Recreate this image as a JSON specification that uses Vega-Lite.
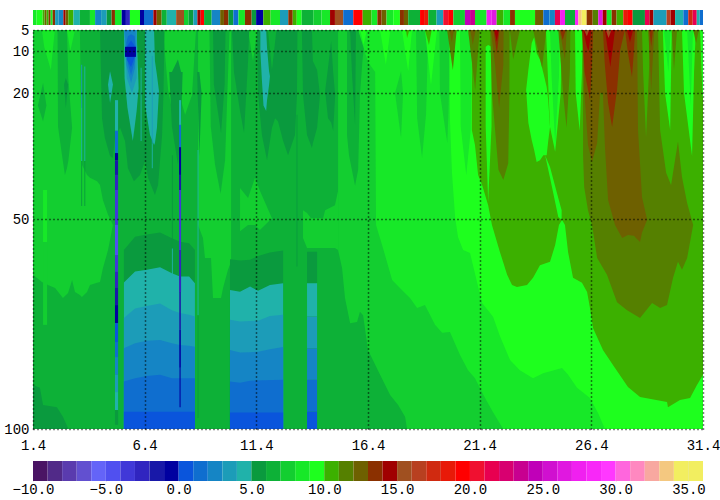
{
"$schema":"https://vega.github.io/schema/vega-lite/v6.json",
"background":"white",
"padding":{"left":3,"top":10,"right":1,"bottom":1},
"spacing":9,
"config":{"view":{"stroke":null},"axis":{"labelFont":"Liberation Mono","labelFontSize":14,"labelColor":"#000","domain":false,"ticks":false,"title":null}},
"datasets":{
"strip":[
{"x":1.4,"x2":1.56,"v":8},{"x":1.56,"x2":1.83,"v":9},{"x":1.83,"x2":1.92,"v":10},{"x":1.92,"x2":2.01,"v":12},{"x":2.01,"x2":2.1,"v":10},{"x":2.1,"x2":2.19,"v":13},{"x":2.19,"x2":2.28,"v":8},{"x":2.28,"x2":2.39,"v":13},{"x":2.39,"x2":2.55,"v":3},{"x":2.55,"x2":2.76,"v":2},{"x":2.76,"x2":2.86,"v":14},{"x":2.86,"x2":2.98,"v":12},{"x":2.98,"x2":3.21,"v":10},{"x":3.21,"x2":3.5,"v":4},{"x":3.5,"x2":3.95,"v":6},{"x":3.95,"x2":4.18,"v":8},{"x":4.18,"x2":4.45,"v":2},{"x":4.45,"x2":4.7,"v":3},{"x":4.7,"x2":4.92,"v":5},{"x":4.92,"x2":5.07,"v":13},{"x":5.07,"x2":5.37,"v":8},{"x":5.37,"x2":5.56,"v":-1},{"x":5.56,"x2":5.74,"v":-3},{"x":5.74,"x2":6.19,"v":9},{"x":6.19,"x2":6.37,"v":-1},{"x":6.37,"x2":6.79,"v":1},{"x":6.79,"x2":6.94,"v":14},{"x":6.94,"x2":7.16,"v":12},{"x":7.16,"x2":7.39,"v":6},{"x":7.39,"x2":7.81,"v":4},{"x":7.81,"x2":8.16,"v":15},{"x":8.16,"x2":8.37,"v":7},{"x":8.37,"x2":8.58,"v":5},{"x":8.58,"x2":8.76,"v":3},{"x":8.76,"x2":8.91,"v":14},{"x":8.91,"x2":9.06,"v":19},{"x":9.06,"x2":9.4,"v":6},{"x":9.4,"x2":9.78,"v":2},{"x":9.78,"x2":9.95,"v":12},{"x":9.95,"x2":10.15,"v":13},{"x":10.15,"x2":10.37,"v":5},{"x":10.37,"x2":10.6,"v":1},{"x":10.6,"x2":10.89,"v":8},{"x":10.89,"x2":11.19,"v":13},{"x":11.19,"x2":11.39,"v":5},{"x":11.39,"x2":11.71,"v":-1},{"x":11.71,"x2":12.04,"v":10},{"x":12.04,"x2":12.46,"v":8},{"x":12.46,"x2":12.83,"v":3},{"x":12.83,"x2":13.03,"v":13},{"x":13.03,"x2":13.21,"v":10},{"x":13.21,"x2":13.43,"v":9},{"x":13.43,"x2":13.95,"v":6},{"x":13.95,"x2":14.32,"v":7},{"x":14.32,"x2":14.7,"v":8},{"x":14.7,"x2":14.92,"v":14},{"x":14.92,"x2":15.29,"v":15},{"x":15.29,"x2":15.74,"v":1},{"x":15.74,"x2":16.16,"v":19},
{"x":16.16,"x2":16.56,"v":10},{"x":16.56,"x2":16.82,"v":8},{"x":16.82,"x2":17.01,"v":13},{"x":17.01,"x2":17.23,"v":12},{"x":17.23,"x2":17.53,"v":8},{"x":17.53,"x2":17.83,"v":9},{"x":17.83,"x2":18.01,"v":13},{"x":18.01,"x2":18.2,"v":12},{"x":18.2,"x2":18.73,"v":6},{"x":18.73,"x2":18.91,"v":19},{"x":18.91,"x2":19.1,"v":18},{"x":19.1,"x2":19.47,"v":6},{"x":19.47,"x2":19.77,"v":3},{"x":19.77,"x2":19.99,"v":20},{"x":19.99,"x2":20.22,"v":19},{"x":20.22,"x2":20.74,"v":7},{"x":20.74,"x2":20.97,"v":24},{"x":20.97,"x2":21.19,"v":23},{"x":21.19,"x2":21.71,"v":8},{"x":21.71,"x2":21.94,"v":27},{"x":21.94,"x2":22.16,"v":26},{"x":22.16,"x2":22.46,"v":10},{"x":22.46,"x2":22.76,"v":8},{"x":22.76,"x2":22.98,"v":13},{"x":22.98,"x2":23.88,"v":9},{"x":23.88,"x2":24.25,"v":12},{"x":24.25,"x2":24.52,"v":1},{"x":24.52,"x2":24.77,"v":2},{"x":24.77,"x2":25,"v":21},{"x":25,"x2":25.22,"v":27},{"x":25.22,"x2":25.67,"v":6},{"x":25.67,"x2":25.82,"v":28},{"x":25.82,"x2":25.97,"v":33},{"x":25.97,"x2":26.19,"v":34},{"x":26.19,"x2":26.46,"v":13},{"x":26.46,"x2":26.71,"v":11},{"x":26.71,"x2":26.91,"v":26},{"x":26.91,"x2":27.09,"v":14},{"x":27.09,"x2":27.31,"v":8},{"x":27.31,"x2":27.53,"v":13},{"x":27.53,"x2":27.83,"v":10},{"x":27.83,"x2":28.04,"v":18},{"x":28.04,"x2":28.25,"v":19},{"x":28.25,"x2":28.8,"v":5},{"x":28.8,"x2":29,"v":21},{"x":29,"x2":29.18,"v":14},{"x":29.18,"x2":29.77,"v":3},{"x":29.77,"x2":29.95,"v":16},{"x":29.95,"x2":30.15,"v":14},{"x":30.15,"x2":30.52,"v":4},{"x":30.52,"x2":30.74,"v":1},{"x":30.74,"x2":30.94,"v":17},{"x":30.94,"x2":31.12,"v":21},{"x":31.12,"x2":31.25,"v":4},{"x":31.25,"x2":31.4,"v":1}
],
"areas":[
{"r":1,"v":6,"x":1.4,"a":5,"b":100},{"r":1,"v":6,"x":31.4,"a":5,"b":100},
{"r":2,"v":7,"x":1.4,"a":5,"b":63.3},{"r":2,"v":7,"x":1.8,"a":5,"b":65},{"r":2,"v":7,"x":2.07,"a":5,"b":65.7},{"r":2,"v":7,"x":2.39,"a":5,"b":66.4},{"r":2,"v":7,"x":2.74,"a":5,"b":68.8},{"r":2,"v":7,"x":2.97,"a":5,"b":67.6},{"r":2,"v":7,"x":3.15,"a":5,"b":64.5},{"r":2,"v":7,"x":3.28,"a":5,"b":67.4},{"r":2,"v":7,"x":3.5,"a":5,"b":68.1},{"r":2,"v":7,"x":3.59,"a":37.1,"b":68.6},{"r":2,"v":7,"x":3.82,"a":39.5,"b":67.4},{"r":2,"v":7,"x":3.95,"a":40.2,"b":65.7},{"r":2,"v":7,"x":4.27,"a":41,"b":65.2},{"r":2,"v":7,"x":4.4,"a":41.9,"b":65},{"r":2,"v":7,"x":4.53,"a":45.5,"b":61.7},{"r":2,"v":7,"x":4.76,"a":49,"b":57.4},{"r":2,"v":7,"x":4.98,"a":51.4,"b":51.4},
{"r":3,"v":7,"x":7.22,"a":5,"b":5},{"r":3,"v":7,"x":7.45,"a":5,"b":19.3},{"r":3,"v":7,"x":7.62,"a":5,"b":24},{"r":3,"v":7,"x":7.89,"a":5,"b":19.3},{"r":3,"v":7,"x":8.21,"a":5,"b":25.2},{"r":3,"v":7,"x":8.52,"a":5,"b":20.5},{"r":3,"v":7,"x":8.7,"a":5,"b":5},
{"r":4,"v":7,"x":8.79,"a":5,"b":51.4},{"r":4,"v":7,"x":9.01,"a":5,"b":54.5},{"r":4,"v":7,"x":9.1,"a":5,"b":59.3},{"r":4,"v":7,"x":9.37,"a":5,"b":59.3},{"r":4,"v":7,"x":9.46,"a":5,"b":68.8},{"r":4,"v":7,"x":9.82,"a":5,"b":68.8},{"r":4,"v":7,"x":9.91,"a":5,"b":66.4},{"r":4,"v":7,"x":10.13,"a":5,"b":62.1},{"r":4,"v":7,"x":10.27,"a":5,"b":60.2},
{"r":5,"v":7,"x":11.03,"a":5,"b":5},{"r":5,"v":7,"x":11.25,"a":5,"b":12.4},{"r":5,"v":7,"x":11.45,"a":5,"b":5},
{"r":6,"v":6,"x":2.5,"a":5,"b":5},{"r":6,"v":6,"x":2.52,"a":5,"b":28},{"r":6,"v":6,"x":2.7,"a":5,"b":34.8},{"r":6,"v":6,"x":2.83,"a":5,"b":39.5},{"r":6,"v":6,"x":2.92,"a":5,"b":37.9},{"r":6,"v":6,"x":2.98,"a":16.4,"b":36.2},{"r":6,"v":6,"x":3.15,"a":28.3,"b":28.3},
{"r":7,"v":5,"x":2.79,"a":18,"b":18},{"r":7,"v":5,"x":2.87,"a":16.4,"b":23.6},{"r":7,"v":5,"x":2.97,"a":18,"b":18},
{"r":8,"v":6,"x":1.62,"a":23,"b":23},{"r":8,"v":6,"x":1.85,"a":17.6,"b":26.7},{"r":8,"v":6,"x":2,"a":23,"b":23},
{"r":9,"v":8,"x":1.8,"a":5,"b":5},{"r":9,"v":8,"x":1.9,"a":5,"b":9},{"r":9,"v":8,"x":2.2,"a":5,"b":14.5},{"r":9,"v":8,"x":2.3,"a":5,"b":9},{"r":9,"v":8,"x":2.38,"a":5,"b":5},
{"r":10,"v":8,"x":2.92,"a":5,"b":5},{"r":10,"v":8,"x":3.07,"a":5,"b":10},{"r":10,"v":8,"x":3.28,"a":5,"b":5},
{"r":11,"v":5,"x":1.4,"a":89.5,"b":100},{"r":11,"v":5,"x":1.71,"a":90.2,"b":100},{"r":11,"v":5,"x":1.85,"a":94.3,"b":100},{"r":11,"v":5,"x":2.47,"a":94.8,"b":100},{"r":11,"v":5,"x":2.74,"a":97.1,"b":100},{"r":11,"v":5,"x":2.97,"a":99.8,"b":100},
{"r":12,"v":5,"x":4.4,"a":5,"b":5},{"r":12,"v":5,"x":4.49,"a":5,"b":26},{"r":12,"v":5,"x":4.62,"a":5,"b":30.7},{"r":12,"v":5,"x":4.85,"a":5,"b":35},{"r":12,"v":5,"x":4.98,"a":5,"b":35.5},{"r":12,"v":5,"x":5.07,"a":5,"b":30.7},{"r":12,"v":5,"x":5.3,"a":5,"b":28.3},{"r":12,"v":5,"x":5.52,"a":5,"b":31.4},{"r":12,"v":5,"x":5.65,"a":5,"b":37.9},{"r":12,"v":5,"x":5.92,"a":5,"b":41},{"r":12,"v":5,"x":6.19,"a":5,"b":39.5},{"r":12,"v":5,"x":6.42,"a":5,"b":36.2},{"r":12,"v":5,"x":6.55,"a":5,"b":40.2},{"r":12,"v":5,"x":6.86,"a":5,"b":44.3},{"r":12,"v":5,"x":7,"a":5,"b":41.9},{"r":12,"v":5,"x":7.18,"a":5,"b":30},{"r":12,"v":5,"x":7.24,"a":5,"b":20.5},{"r":12,"v":5,"x":7.29,"a":5,"b":5},
{"r":13,"v":5,"x":7.5,"a":15,"b":15},{"r":13,"v":5,"x":7.62,"a":15,"b":28},{"r":13,"v":5,"x":7.89,"a":12,"b":37},{"r":13,"v":5,"x":8.03,"a":15,"b":27},{"r":13,"v":5,"x":8.1,"a":15,"b":15},
{"r":14,"v":5,"x":8.75,"a":15,"b":15},{"r":14,"v":5,"x":8.85,"a":15,"b":35},{"r":14,"v":5,"x":8.95,"a":20,"b":20},
{"r":15,"v":6,"x":9.3,"a":5,"b":5},{"r":15,"v":6,"x":9.36,"a":5,"b":28},{"r":15,"v":6,"x":9.55,"a":5,"b":37},{"r":15,"v":6,"x":9.8,"a":5,"b":44},{"r":15,"v":6,"x":10,"a":5,"b":36},{"r":15,"v":6,"x":10.2,"a":5,"b":5},
{"r":16,"v":5,"x":9.46,"a":5,"b":5},{"r":16,"v":5,"x":9.5,"a":5,"b":18},{"r":16,"v":5,"x":9.82,"a":5,"b":29.5},{"r":16,"v":5,"x":9.98,"a":5,"b":18},{"r":16,"v":5,"x":10.02,"a":5,"b":5},
{"r":17,"v":4,"x":4.76,"a":18,"b":18},{"r":17,"v":4,"x":4.85,"a":14.8,"b":22.4},{"r":17,"v":4,"x":4.98,"a":18,"b":18},
{"r":18,"v":4,"x":5.47,"a":5,"b":5},{"r":18,"v":4,"x":5.5,"a":5,"b":16.4},{"r":18,"v":4,"x":5.63,"a":5,"b":23.6},{"r":18,"v":4,"x":5.87,"a":5,"b":31.4},{"r":18,"v":4,"x":6.04,"a":5,"b":24.3},{"r":18,"v":4,"x":6.13,"a":18.8,"b":18.8},
{"r":19,"v":3,"x":5.47,"a":5,"b":5},{"r":19,"v":3,"x":5.6,"a":5,"b":16.4},{"r":19,"v":3,"x":5.83,"a":5,"b":20},{"r":19,"v":3,"x":6.04,"a":5,"b":16.4},{"r":19,"v":3,"x":6.06,"a":5,"b":5},
{"r":20,"v":2,"x":5.5,"a":5,"b":5},{"r":20,"v":2,"x":5.58,"a":5,"b":13.3},{"r":20,"v":2,"x":5.79,"a":5,"b":17.6},{"r":20,"v":2,"x":5.97,"a":5,"b":14},{"r":20,"v":2,"x":6,"a":5,"b":5},
{"r":21,"v":1,"x":5.58,"a":8,"b":9},{"r":21,"v":1,"x":5.65,"a":6.5,"b":13},{"r":21,"v":1,"x":5.79,"a":6,"b":15.7},{"r":21,"v":1,"x":5.95,"a":6.5,"b":12.5},{"r":21,"v":1,"x":6,"a":9,"b":9},
{"r":22,"v":0,"x":5.6,"a":9,"b":12},{"r":22,"v":0,"x":5.79,"a":7.5,"b":13.8},{"r":22,"v":0,"x":5.98,"a":9,"b":11},
{"r":23,"v":4,"x":6.42,"a":5,"b":22.9},{"r":23,"v":4,"x":6.64,"a":5,"b":30},{"r":23,"v":4,"x":6.82,"a":5,"b":32.4},{"r":23,"v":4,"x":6.86,"a":12.4,"b":31.9},{"r":23,"v":4,"x":6.95,"a":15.7,"b":28.3},{"r":23,"v":4,"x":7.04,"a":19.5,"b":19.5},
{"r":24,"v":5,"x":10.31,"a":5,"b":5},{"r":24,"v":5,"x":10.4,"a":5,"b":15},{"r":24,"v":5,"x":10.67,"a":5,"b":24.3},{"r":24,"v":5,"x":10.85,"a":5,"b":29.5},{"r":24,"v":5,"x":11.03,"a":5,"b":12.4},{"r":24,"v":5,"x":11.08,"a":5,"b":5},
{"r":25,"v":5,"x":11.43,"a":5,"b":5},{"r":25,"v":5,"x":11.48,"a":5,"b":20.5},{"r":25,"v":5,"x":11.65,"a":5,"b":30},{"r":25,"v":5,"x":11.88,"a":5,"b":36},{"r":25,"v":5,"x":12.1,"a":5,"b":28.3},{"r":25,"v":5,"x":12.24,"a":5,"b":26},{"r":25,"v":5,"x":12.37,"a":5,"b":26.7},{"r":25,"v":5,"x":12.6,"a":5,"b":31.4},{"r":25,"v":5,"x":12.82,"a":5,"b":34.8},{"r":25,"v":5,"x":13.13,"a":5,"b":30},{"r":25,"v":5,"x":13.22,"a":5,"b":20.5},{"r":25,"v":5,"x":13.24,"a":5,"b":5},
{"r":26,"v":6,"x":11.92,"a":5,"b":5},{"r":26,"v":6,"x":12.1,"a":5,"b":14.5},{"r":26,"v":6,"x":12.3,"a":5,"b":5},
{"r":27,"v":4,"x":11.58,"a":5,"b":10},{"r":27,"v":4,"x":11.65,"a":5,"b":17},{"r":27,"v":4,"x":11.72,"a":5,"b":23},{"r":27,"v":4,"x":11.84,"a":5,"b":24.3},{"r":27,"v":4,"x":11.88,"a":9.3,"b":21.7},{"r":27,"v":4,"x":11.97,"a":14.8,"b":18.1},{"r":27,"v":4,"x":12.01,"a":16,"b":16},
{"r":28,"v":5,"x":13.44,"a":5,"b":5},{"r":28,"v":5,"x":13.49,"a":5,"b":20.5},{"r":28,"v":5,"x":13.67,"a":5,"b":30},{"r":28,"v":5,"x":13.89,"a":5,"b":33.1},{"r":28,"v":5,"x":13.93,"a":12.4,"b":32},{"r":28,"v":5,"x":14.12,"a":14.5,"b":28.3},{"r":28,"v":5,"x":14.25,"a":20.5,"b":20.5},
{"r":29,"v":5,"x":14.48,"a":19.5,"b":19.5},{"r":29,"v":5,"x":14.61,"a":14,"b":26},{"r":29,"v":5,"x":14.75,"a":7.6,"b":27},{"r":29,"v":5,"x":14.84,"a":15,"b":29},{"r":29,"v":5,"x":14.93,"a":20.5,"b":20.5},
{"r":30,"v":7,"x":10.67,"a":42.6,"b":52.9},{"r":30,"v":7,"x":11.03,"a":45,"b":51.4},{"r":30,"v":7,"x":11.34,"a":40.2,"b":51.4},{"r":30,"v":7,"x":11.56,"a":43.3,"b":52.6},{"r":30,"v":7,"x":12.1,"a":49.8,"b":49.8},
{"r":31,"v":7,"x":13.49,"a":47.9,"b":54.5},{"r":31,"v":7,"x":13.67,"a":48.6,"b":56.9},{"r":31,"v":7,"x":13.85,"a":49.8,"b":56.9},{"r":31,"v":7,"x":14.39,"a":49.8,"b":56.9},{"r":31,"v":7,"x":14.48,"a":47.9,"b":56.9},{"r":31,"v":7,"x":14.92,"a":46.7,"b":56.9},{"r":31,"v":7,"x":15.06,"a":43.3,"b":57.4},
{"r":32,"v":7,"x":15.06,"a":5,"b":57.4},{"r":32,"v":7,"x":15.24,"a":5,"b":61.7},{"r":32,"v":7,"x":15.37,"a":5,"b":68.8},{"r":32,"v":7,"x":15.6,"a":5,"b":74.8},{"r":32,"v":7,"x":15.91,"a":5,"b":74.5},{"r":32,"v":7,"x":16.04,"a":5,"b":72.1},{"r":32,"v":7,"x":16.18,"a":5,"b":72.9},{"r":32,"v":7,"x":16.4,"a":5,"b":81.2},{"r":32,"v":7,"x":16.94,"a":5,"b":87.1},{"r":32,"v":7,"x":17.39,"a":5,"b":91.9},{"r":32,"v":7,"x":17.75,"a":5,"b":94.3},{"r":32,"v":7,"x":18.06,"a":5,"b":97.1},{"r":32,"v":7,"x":18.15,"a":5,"b":100},{"r":32,"v":7,"x":31.4,"a":5,"b":100},
{"r":33,"v":6,"x":15.46,"a":5,"b":30},{"r":33,"v":6,"x":15.55,"a":5,"b":34.8},{"r":33,"v":6,"x":15.82,"a":5,"b":42.1},{"r":33,"v":6,"x":15.96,"a":5,"b":38.3},{"r":33,"v":6,"x":16.04,"a":5,"b":20.5},{"r":33,"v":6,"x":16.15,"a":5,"b":12.4},{"r":33,"v":6,"x":16.3,"a":5,"b":5},
{"r":34,"v":5,"x":15.6,"a":5,"b":5},{"r":34,"v":5,"x":15.68,"a":5,"b":15},{"r":34,"v":5,"x":15.82,"a":5,"b":27.6},{"r":34,"v":5,"x":15.86,"a":5,"b":5},
{"r":35,"v":8,"x":15.96,"a":5,"b":5},{"r":35,"v":8,"x":16.4,"a":5,"b":12.6},{"r":35,"v":8,"x":16.72,"a":5,"b":15},{"r":35,"v":8,"x":16.76,"a":5,"b":51.4},{"r":35,"v":8,"x":17.07,"a":5,"b":56.9},{"r":35,"v":8,"x":17.48,"a":5,"b":64.5},{"r":35,"v":8,"x":17.83,"a":5,"b":66.4},{"r":35,"v":8,"x":18.28,"a":5,"b":68.8},{"r":35,"v":8,"x":18.6,"a":5,"b":71.2},{"r":35,"v":8,"x":18.95,"a":5,"b":70.5},{"r":35,"v":8,"x":19.4,"a":5,"b":75.2},{"r":35,"v":8,"x":19.72,"a":5,"b":77.1},{"r":35,"v":8,"x":20.07,"a":5,"b":76.9},{"r":35,"v":8,"x":20.52,"a":5,"b":82.4},{"r":35,"v":8,"x":20.88,"a":5,"b":86},{"r":35,"v":8,"x":21.19,"a":5,"b":87.9},{"r":35,"v":8,"x":21.64,"a":5,"b":92.6},{"r":35,"v":8,"x":22,"a":5,"b":96},{"r":35,"v":8,"x":22.45,"a":5,"b":100},{"r":35,"v":8,"x":31.4,"a":5,"b":100},
{"r":36,"v":9,"x":16.05,"a":5,"b":5},{"r":36,"v":9,"x":16.2,"a":5,"b":8.5},{"r":36,"v":9,"x":16.35,"a":5,"b":5},
{"r":37,"v":7,"x":17.61,"a":20,"b":20},{"r":37,"v":7,"x":17.88,"a":14.8,"b":30.7},{"r":37,"v":7,"x":17.97,"a":20,"b":20},
{"r":38,"v":7,"x":18.55,"a":5,"b":5},{"r":38,"v":7,"x":18.6,"a":5,"b":26},{"r":38,"v":7,"x":18.82,"a":5,"b":35.5},{"r":38,"v":7,"x":19,"a":5,"b":25},{"r":38,"v":7,"x":19.1,"a":5,"b":5},
{"r":39,"v":7,"x":19.6,"a":5,"b":5},{"r":39,"v":7,"x":19.62,"a":5,"b":20},{"r":39,"v":7,"x":19.95,"a":5,"b":31.9},{"r":39,"v":7,"x":20,"a":5,"b":25},{"r":39,"v":7,"x":20.1,"a":5,"b":5},
{"r":40,"v":9,"x":16.94,"a":5,"b":5},{"r":40,"v":9,"x":17.2,"a":5,"b":13.3},{"r":40,"v":9,"x":17.4,"a":5,"b":5},
{"r":41,"v":9,"x":17.92,"a":5,"b":5},{"r":41,"v":9,"x":18.2,"a":5,"b":14.8},{"r":41,"v":9,"x":18.37,"a":5,"b":5},
{"r":42,"v":10,"x":18.1,"a":5,"b":5},{"r":42,"v":10,"x":18.15,"a":5,"b":6.9},{"r":42,"v":10,"x":18.25,"a":5,"b":5},
{"r":43,"v":9,"x":18.95,"a":5,"b":5},{"r":43,"v":9,"x":19.22,"a":5,"b":18.1},{"r":43,"v":9,"x":19.49,"a":5,"b":5},
{"r":44,"v":10,"x":18.95,"a":5,"b":5},{"r":44,"v":10,"x":19.13,"a":5,"b":8.6},{"r":44,"v":10,"x":19.25,"a":5,"b":5},
{"r":45,"v":9,"x":20.03,"a":5,"b":5},{"r":45,"v":9,"x":20.07,"a":5,"b":26.4},{"r":45,"v":9,"x":20.16,"a":5,"b":39},{"r":45,"v":9,"x":20.3,"a":5,"b":49.5},{"r":45,"v":9,"x":20.43,"a":5,"b":54.3},{"r":45,"v":9,"x":20.66,"a":5,"b":57.4},{"r":45,"v":9,"x":20.97,"a":5,"b":58.1},{"r":45,"v":9,"x":21.28,"a":5,"b":65},{"r":45,"v":9,"x":21.51,"a":5,"b":70},{"r":45,"v":9,"x":22,"a":5,"b":73.3},{"r":45,"v":9,"x":22.31,"a":5,"b":77.9},{"r":45,"v":9,"x":22.76,"a":5,"b":83.6},{"r":45,"v":9,"x":23.2,"a":5,"b":86},{"r":45,"v":9,"x":23.79,"a":5,"b":87.9},{"r":45,"v":9,"x":24.24,"a":5,"b":86.7},{"r":45,"v":9,"x":25.09,"a":5,"b":85.5},{"r":45,"v":9,"x":25.36,"a":5,"b":87.1},{"r":45,"v":9,"x":25.76,"a":5,"b":90.2},{"r":45,"v":9,"x":26.34,"a":5,"b":92.6},{"r":45,"v":9,"x":26.7,"a":5,"b":96.2},{"r":45,"v":9,"x":27.01,"a":5,"b":100},{"r":45,"v":9,"x":31.4,"a":5,"b":100},
{"r":46,"v":8,"x":20.52,"a":5,"b":5},{"r":46,"v":8,"x":20.55,"a":5,"b":28},{"r":46,"v":8,"x":20.8,"a":5,"b":39.5},{"r":46,"v":8,"x":21,"a":5,"b":28.8},{"r":46,"v":8,"x":21.05,"a":5,"b":5},
{"r":47,"v":10,"x":21.05,"a":5,"b":28.8},{"r":47,"v":10,"x":21.19,"a":5,"b":32.4},{"r":47,"v":10,"x":21.33,"a":5,"b":39.5},{"r":47,"v":10,"x":21.51,"a":5,"b":41.9},{"r":47,"v":10,"x":21.78,"a":5,"b":46.7},{"r":47,"v":10,"x":21.95,"a":5,"b":51.4},{"r":47,"v":10,"x":22.31,"a":5,"b":57.9},{"r":47,"v":10,"x":22.63,"a":5,"b":63.3},{"r":47,"v":10,"x":22.85,"a":5,"b":65.7},{"r":47,"v":10,"x":23.07,"a":5,"b":66.2},{"r":47,"v":10,"x":23.52,"a":5,"b":65.7},{"r":47,"v":10,"x":23.79,"a":5,"b":64},{"r":47,"v":10,"x":24.1,"a":5,"b":61},{"r":47,"v":10,"x":24.55,"a":5,"b":60.2},{"r":47,"v":10,"x":24.78,"a":5,"b":56.2},{"r":47,"v":10,"x":24.95,"a":5,"b":51.4},{"r":47,"v":10,"x":25.09,"a":5,"b":50.2},{"r":47,"v":10,"x":25.22,"a":5,"b":51.4},{"r":47,"v":10,"x":25.36,"a":5,"b":57.9},{"r":47,"v":10,"x":25.58,"a":5,"b":64},{"r":47,"v":10,"x":25.98,"a":5,"b":65.2},{"r":47,"v":10,"x":26.21,"a":5,"b":67.4},{"r":47,"v":10,"x":26.34,"a":5,"b":71.2},{"r":47,"v":10,"x":26.48,"a":5,"b":76},{"r":47,"v":10,"x":26.92,"a":5,"b":81.2},{"r":47,"v":10,"x":27.46,"a":5,"b":85.5},{"r":47,"v":10,"x":28.04,"a":5,"b":90},{"r":47,"v":10,"x":28.58,"a":5,"b":92.4},{"r":47,"v":10,"x":29.79,"a":5,"b":93.6},{"r":47,"v":10,"x":29.83,"a":5,"b":94.8},{"r":47,"v":10,"x":30.37,"a":5,"b":93.1},{"r":47,"v":10,"x":30.82,"a":5,"b":92.6},{"r":47,"v":10,"x":31.13,"a":5,"b":89.5},{"r":47,"v":10,"x":31.4,"a":5,"b":87.1},
{"r":48,"v":9,"x":23.48,"a":19.3,"b":19.3},{"r":48,"v":9,"x":23.58,"a":14.5,"b":27.1},{"r":48,"v":9,"x":23.73,"a":8.1,"b":31.2},{"r":48,"v":9,"x":23.84,"a":6.7,"b":33.6},{"r":48,"v":9,"x":23.95,"a":10.5,"b":36.4},{"r":48,"v":9,"x":24.1,"a":12.1,"b":36},{"r":48,"v":9,"x":24.25,"a":15.2,"b":34.8},{"r":48,"v":9,"x":24.4,"a":18.6,"b":34.8},{"r":48,"v":9,"x":24.47,"a":21.7,"b":31.4},{"r":48,"v":9,"x":24.55,"a":28.1,"b":28.1},
{"r":49,"v":9,"x":24.33,"a":34.8,"b":34.8},{"r":49,"v":9,"x":24.55,"a":37.6,"b":40.2},{"r":49,"v":9,"x":24.92,"a":45,"b":49.5},{"r":49,"v":9,"x":25.07,"a":47.9,"b":50.2},
{"r":50,"v":9,"x":21.67,"a":9,"b":28},{"r":50,"v":9,"x":21.78,"a":8.6,"b":46},{"r":50,"v":9,"x":21.93,"a":9,"b":28},
{"r":51,"v":9,"x":24.37,"a":5,"b":5},{"r":51,"v":9,"x":24.55,"a":5,"b":28.1},{"r":51,"v":9,"x":24.78,"a":5,"b":34},{"r":51,"v":9,"x":25.03,"a":5,"b":20},{"r":51,"v":9,"x":25.07,"a":5,"b":5},
{"r":52,"v":8,"x":24.55,"a":5,"b":5},{"r":52,"v":8,"x":24.62,"a":5,"b":16},{"r":52,"v":8,"x":24.78,"a":5,"b":32},{"r":52,"v":8,"x":24.95,"a":5,"b":16},{"r":52,"v":8,"x":24.98,"a":5,"b":5},
{"r":53,"v":9,"x":25.67,"a":5,"b":5},{"r":53,"v":9,"x":25.7,"a":5,"b":20},{"r":53,"v":9,"x":25.88,"a":5,"b":29},{"r":53,"v":9,"x":25.98,"a":5,"b":15},{"r":53,"v":9,"x":26,"a":5,"b":5},
{"r":54,"v":11,"x":26.03,"a":5,"b":35},{"r":54,"v":11,"x":26.08,"a":5,"b":42.4},{"r":54,"v":11,"x":26.25,"a":5,"b":47.9},{"r":54,"v":11,"x":26.43,"a":5,"b":51.4},{"r":54,"v":11,"x":26.66,"a":5,"b":59.3},{"r":54,"v":11,"x":27.1,"a":5,"b":63.3},{"r":54,"v":11,"x":27.55,"a":5,"b":69.8},{"r":54,"v":11,"x":28,"a":5,"b":71.7},{"r":54,"v":11,"x":28.58,"a":5,"b":73.6},{"r":54,"v":11,"x":29.12,"a":5,"b":70},{"r":54,"v":11,"x":29.48,"a":5,"b":71.2},{"r":54,"v":11,"x":29.79,"a":5,"b":70.5},{"r":54,"v":11,"x":30.06,"a":5,"b":64},{"r":54,"v":11,"x":30.19,"a":5,"b":61.7},{"r":54,"v":11,"x":30.28,"a":31.5,"b":60.2},{"r":54,"v":11,"x":30.46,"a":40,"b":62.1},{"r":54,"v":11,"x":30.69,"a":46.2,"b":59.3},{"r":54,"v":11,"x":30.96,"a":51.4,"b":51.4},
{"r":55,"v":10,"x":28.67,"a":5,"b":5},{"r":55,"v":10,"x":28.72,"a":5,"b":15},{"r":55,"v":10,"x":28.85,"a":5,"b":30.5},{"r":55,"v":10,"x":28.98,"a":5,"b":15},{"r":55,"v":10,"x":29.03,"a":5,"b":5},
{"r":56,"v":10,"x":29.39,"a":5,"b":5},{"r":56,"v":10,"x":29.48,"a":5,"b":28.8},{"r":56,"v":10,"x":29.75,"a":5,"b":39},{"r":56,"v":10,"x":29.97,"a":5,"b":41.9},{"r":56,"v":10,"x":30.28,"a":5,"b":31.5},
{"r":57,"v":9,"x":29.6,"a":5,"b":5},{"r":57,"v":9,"x":29.7,"a":5,"b":20},{"r":57,"v":9,"x":29.93,"a":5,"b":28.8},{"r":57,"v":9,"x":30,"a":5,"b":5},
{"r":58,"v":8,"x":29.65,"a":5,"b":5},{"r":58,"v":8,"x":29.85,"a":5,"b":15},{"r":58,"v":8,"x":29.95,"a":5,"b":5},
{"r":59,"v":9,"x":30.46,"a":5,"b":5},{"r":59,"v":9,"x":30.55,"a":5,"b":20},{"r":59,"v":9,"x":30.91,"a":5,"b":35},{"r":59,"v":9,"x":31,"a":5,"b":15},{"r":59,"v":9,"x":31.08,"a":5,"b":5},
{"r":60,"v":8,"x":30.69,"a":5,"b":5},{"r":60,"v":8,"x":30.85,"a":5,"b":23},{"r":60,"v":8,"x":30.95,"a":5,"b":5},
{"r":61,"v":11,"x":30,"a":5,"b":5},{"r":61,"v":11,"x":30.1,"a":5,"b":14.5},{"r":61,"v":11,"x":30.24,"a":5,"b":5},
{"r":62,"v":11,"x":30.96,"a":5,"b":5},{"r":62,"v":11,"x":31.09,"a":5,"b":8.1},{"r":62,"v":11,"x":31.22,"a":5,"b":5},
{"r":63,"v":9,"x":31.27,"a":5,"b":5},{"r":63,"v":9,"x":31.38,"a":5,"b":21},{"r":63,"v":9,"x":31.4,"a":5,"b":21},
{"r":64,"v":12,"x":26.03,"a":5,"b":5},{"r":64,"v":12,"x":26.08,"a":5,"b":19.3},{"r":64,"v":12,"x":26.25,"a":5,"b":32.4},{"r":64,"v":12,"x":26.43,"a":5,"b":36.4},{"r":64,"v":12,"x":26.66,"a":5,"b":31.9},{"r":64,"v":12,"x":26.79,"a":5,"b":20},{"r":64,"v":12,"x":26.92,"a":5,"b":20},{"r":64,"v":12,"x":27.01,"a":5,"b":32.9},{"r":64,"v":12,"x":27.15,"a":5,"b":45.5},{"r":64,"v":12,"x":27.46,"a":5,"b":51.4},{"r":64,"v":12,"x":27.78,"a":5,"b":54.5},{"r":64,"v":12,"x":28.04,"a":5,"b":53.8},{"r":64,"v":12,"x":28.31,"a":5,"b":54},{"r":64,"v":12,"x":28.45,"a":5,"b":54.8},{"r":64,"v":12,"x":28.49,"a":28.8,"b":55},{"r":64,"v":12,"x":28.58,"a":36.7,"b":55.5},{"r":64,"v":12,"x":28.67,"a":44.8,"b":53.2},{"r":64,"v":12,"x":28.9,"a":50.2,"b":50.2},
{"r":65,"v":12,"x":28.95,"a":5,"b":5},{"r":65,"v":12,"x":29.08,"a":5,"b":19.3},{"r":65,"v":12,"x":29.22,"a":5,"b":5},
{"r":66,"v":13,"x":29,"a":5,"b":5},{"r":66,"v":13,"x":29.08,"a":5,"b":9},{"r":66,"v":13,"x":29.16,"a":5,"b":5},
{"r":67,"v":11,"x":19.94,"a":5,"b":5},{"r":67,"v":11,"x":20.2,"a":5,"b":14.5},{"r":67,"v":11,"x":20.37,"a":5,"b":5},
{"r":68,"v":12,"x":20.05,"a":5,"b":5},{"r":68,"v":12,"x":20.15,"a":5,"b":8},{"r":68,"v":12,"x":20.25,"a":5,"b":5},
{"r":69,"v":11,"x":20.88,"a":5,"b":5},{"r":69,"v":11,"x":21.2,"a":5,"b":19.3},{"r":69,"v":11,"x":21.4,"a":5,"b":5},
{"r":70,"v":12,"x":20.98,"a":5,"b":5},{"r":70,"v":12,"x":21.09,"a":5,"b":8.6},{"r":70,"v":12,"x":21.22,"a":5,"b":5},
{"r":71,"v":11,"x":21.87,"a":5,"b":5},{"r":71,"v":11,"x":21.95,"a":5,"b":20},{"r":71,"v":11,"x":22.09,"a":5,"b":28.8},{"r":71,"v":11,"x":22.24,"a":5,"b":38.3},{"r":71,"v":11,"x":22.46,"a":5,"b":40.7},{"r":71,"v":11,"x":22.68,"a":5,"b":36.7},{"r":71,"v":11,"x":22.73,"a":5,"b":21},{"r":71,"v":11,"x":22.74,"a":5,"b":5},
{"r":72,"v":12,"x":21.9,"a":5,"b":5},{"r":72,"v":12,"x":22.09,"a":5,"b":13.3},{"r":72,"v":12,"x":22.27,"a":5,"b":23.6},{"r":72,"v":12,"x":22.46,"a":5,"b":13.3},{"r":72,"v":12,"x":22.47,"a":5,"b":5},
{"r":73,"v":13,"x":22.02,"a":5,"b":5},{"r":73,"v":13,"x":22.17,"a":5,"b":10.6},{"r":73,"v":13,"x":22.29,"a":5,"b":5},
{"r":74,"v":14,"x":22.05,"a":5,"b":5},{"r":74,"v":14,"x":22.17,"a":5,"b":7.8},{"r":74,"v":14,"x":22.25,"a":5,"b":5},
{"r":75,"v":11,"x":22.75,"a":5,"b":5},{"r":75,"v":11,"x":22.9,"a":5,"b":12},{"r":75,"v":11,"x":23.2,"a":5,"b":5},
{"r":76,"v":11,"x":23.79,"a":5,"b":5},{"r":76,"v":11,"x":24.2,"a":5,"b":14},{"r":76,"v":11,"x":24.38,"a":5,"b":5},
{"r":77,"v":11,"x":24.92,"a":5,"b":5},{"r":77,"v":11,"x":25.15,"a":5,"b":21},{"r":77,"v":11,"x":25.29,"a":5,"b":28.3},{"r":77,"v":11,"x":25.44,"a":5,"b":14.5},{"r":77,"v":11,"x":25.46,"a":5,"b":5},
{"r":78,"v":12,"x":24.97,"a":5,"b":5},{"r":78,"v":12,"x":25.22,"a":5,"b":12},{"r":78,"v":12,"x":25.3,"a":5,"b":5},
{"r":79,"v":13,"x":25,"a":5,"b":5},{"r":79,"v":13,"x":25.12,"a":5,"b":7.4},{"r":79,"v":13,"x":25.25,"a":5,"b":5},
{"r":80,"v":13,"x":25.98,"a":5,"b":5},{"r":80,"v":13,"x":26.1,"a":5,"b":15},{"r":80,"v":13,"x":26.34,"a":5,"b":21.7},{"r":80,"v":13,"x":26.43,"a":5,"b":12.9},{"r":80,"v":13,"x":26.48,"a":5,"b":5},
{"r":81,"v":13,"x":26.92,"a":5,"b":5},{"r":81,"v":13,"x":27,"a":5,"b":12.9},{"r":81,"v":13,"x":27.15,"a":5,"b":22.4},{"r":81,"v":13,"x":27.33,"a":5,"b":28.1},{"r":81,"v":13,"x":27.55,"a":5,"b":19.3},{"r":81,"v":13,"x":27.69,"a":5,"b":9.8},{"r":81,"v":13,"x":27.9,"a":5,"b":5},
{"r":82,"v":13,"x":27.91,"a":5,"b":5},{"r":82,"v":13,"x":28.04,"a":5,"b":10.5},{"r":82,"v":13,"x":28.22,"a":5,"b":16.2},{"r":82,"v":13,"x":28.31,"a":5,"b":9.8},{"r":82,"v":13,"x":28.36,"a":5,"b":5},
{"r":83,"v":14,"x":26.03,"a":5,"b":5},{"r":83,"v":14,"x":26.2,"a":5,"b":9},{"r":83,"v":14,"x":26.28,"a":5,"b":10},{"r":83,"v":14,"x":26.4,"a":5,"b":5},
{"r":84,"v":14,"x":27.01,"a":5,"b":5},{"r":84,"v":14,"x":27.25,"a":5,"b":13.8},{"r":84,"v":14,"x":27.46,"a":5,"b":5},
{"r":85,"v":14,"x":28,"a":5,"b":5},{"r":85,"v":14,"x":28.13,"a":5,"b":7.9},{"r":85,"v":14,"x":28.27,"a":5,"b":5},
{"r":86,"v":15,"x":26.08,"a":5,"b":5},{"r":86,"v":15,"x":26.2,"a":5,"b":6.5},{"r":86,"v":15,"x":26.3,"a":5,"b":5},
{"r":87,"v":15,"x":27.05,"a":5,"b":5},{"r":87,"v":15,"x":27.17,"a":5,"b":6.9},{"r":87,"v":15,"x":27.3,"a":5,"b":5},
{"r":88,"v":5,"x":5.47,"a":57.4,"b":100},{"r":88,"v":5,"x":5.97,"a":54.2,"b":100},{"r":88,"v":5,"x":6.5,"a":53.7,"b":100},{"r":88,"v":5,"x":7.09,"a":53.2,"b":100},{"r":88,"v":5,"x":7.62,"a":54.6,"b":100},{"r":88,"v":5,"x":7.98,"a":55.4,"b":100},{"r":88,"v":5,"x":8.39,"a":55.8,"b":100},{"r":88,"v":5,"x":8.65,"a":57.4,"b":100},
{"r":89,"v":4,"x":5.47,"a":65.1,"b":100},{"r":89,"v":4,"x":5.97,"a":62.5,"b":100},{"r":89,"v":4,"x":6.5,"a":62.1,"b":100},{"r":89,"v":4,"x":7.09,"a":61.5,"b":100},{"r":89,"v":4,"x":7.62,"a":62.9,"b":100},{"r":89,"v":4,"x":7.98,"a":63.7,"b":100},{"r":89,"v":4,"x":8.39,"a":63.7,"b":100},{"r":89,"v":4,"x":8.65,"a":65.3,"b":100},
{"r":90,"v":3,"x":5.47,"a":73.6,"b":100},{"r":90,"v":3,"x":5.97,"a":71.3,"b":100},{"r":90,"v":3,"x":6.5,"a":70.7,"b":100},{"r":90,"v":3,"x":7.09,"a":70.1,"b":100},{"r":90,"v":3,"x":7.62,"a":71.7,"b":100},{"r":90,"v":3,"x":7.98,"a":72.4,"b":100},{"r":90,"v":3,"x":8.39,"a":72.8,"b":100},{"r":90,"v":3,"x":8.65,"a":73.2,"b":100},
{"r":91,"v":2,"x":5.47,"a":80.8,"b":100},{"r":91,"v":2,"x":5.97,"a":79.6,"b":100},{"r":91,"v":2,"x":6.5,"a":79,"b":100},{"r":91,"v":2,"x":7.09,"a":78.8,"b":100},{"r":91,"v":2,"x":7.62,"a":79.6,"b":100},{"r":91,"v":2,"x":7.98,"a":80,"b":100},{"r":91,"v":2,"x":8.39,"a":80.2,"b":100},{"r":91,"v":2,"x":8.65,"a":80.4,"b":100},
{"r":92,"v":1,"x":5.47,"a":88.7,"b":100},{"r":92,"v":1,"x":5.97,"a":87.9,"b":100},{"r":92,"v":1,"x":6.5,"a":87.4,"b":100},{"r":92,"v":1,"x":7.09,"a":87.1,"b":100},{"r":92,"v":1,"x":7.62,"a":87.9,"b":100},{"r":92,"v":1,"x":8.65,"a":87.9,"b":100},
{"r":93,"v":0,"x":5.47,"a":95.9,"b":100},{"r":93,"v":0,"x":8.65,"a":95.9,"b":100},
{"r":94,"v":5,"x":10.22,"a":59.6,"b":100},{"r":94,"v":5,"x":10.67,"a":59.9,"b":100},{"r":94,"v":5,"x":11.12,"a":59.7,"b":100},{"r":94,"v":5,"x":11.48,"a":58.8,"b":100},{"r":94,"v":5,"x":12.01,"a":58,"b":100},{"r":94,"v":5,"x":12.6,"a":57.5,"b":100},
{"r":95,"v":4,"x":10.22,"a":66.9,"b":100},{"r":95,"v":4,"x":10.67,"a":67.3,"b":100},{"r":95,"v":4,"x":11.12,"a":66.1,"b":100},{"r":95,"v":4,"x":11.48,"a":67.1,"b":100},{"r":95,"v":4,"x":12.01,"a":65.7,"b":100},{"r":95,"v":4,"x":12.6,"a":65.3,"b":100},
{"r":96,"v":3,"x":10.22,"a":74,"b":100},{"r":96,"v":3,"x":10.67,"a":74.4,"b":100},{"r":96,"v":3,"x":11.12,"a":74.3,"b":100},{"r":96,"v":3,"x":11.48,"a":74.2,"b":100},{"r":96,"v":3,"x":12.01,"a":73.1,"b":100},{"r":96,"v":3,"x":12.6,"a":72.8,"b":100},
{"r":97,"v":2,"x":10.22,"a":81.2,"b":100},{"r":97,"v":2,"x":10.67,"a":81.8,"b":100},{"r":97,"v":2,"x":11.12,"a":81.7,"b":100},{"r":97,"v":2,"x":11.48,"a":81.6,"b":100},{"r":97,"v":2,"x":12.01,"a":81,"b":100},{"r":97,"v":2,"x":12.6,"a":80.5,"b":100},
{"r":98,"v":1,"x":10.22,"a":88.7,"b":100},{"r":98,"v":1,"x":10.67,"a":89,"b":100},{"r":98,"v":1,"x":11.12,"a":88.5,"b":100},{"r":98,"v":1,"x":12.6,"a":88.3,"b":100},
{"r":99,"v":0,"x":10.22,"a":96.1,"b":100},{"r":99,"v":0,"x":12.6,"a":96.1,"b":100}
],
"bars":[
{"x":5.52,"x2":6.01,"a":9,"b":11.4,"v":-1},
{"x":13.67,"x2":14.12,"a":57.8,"b":65.3,"v":5},{"x":13.67,"x2":14.12,"a":65.3,"b":73.2,"v":4},{"x":13.67,"x2":14.12,"a":73.2,"b":80.8,"v":3},{"x":13.67,"x2":14.12,"a":80.8,"b":88.3,"v":2},{"x":13.67,"x2":14.12,"a":88.3,"b":95.9,"v":1},{"x":13.67,"x2":14.12,"a":95.9,"b":100,"v":0},
{"x":5.07,"x2":5.21,"a":21.7,"b":29,"v":4},{"x":5.07,"x2":5.21,"a":29,"b":34.3,"v":1},{"x":5.07,"x2":5.21,"a":34.3,"b":36,"v":-1},{"x":5.07,"x2":5.21,"a":36,"b":39.5,"v":-2},{"x":5.07,"x2":5.21,"a":39.5,"b":43.1,"v":-3},{"x":5.07,"x2":5.21,"a":43.1,"b":51.4,"v":-4},{"x":5.07,"x2":5.21,"a":51.4,"b":58.6,"v":-5},{"x":5.07,"x2":5.21,"a":58.6,"b":62.6,"v":-4},{"x":5.07,"x2":5.21,"a":62.6,"b":66.4,"v":-3},{"x":5.07,"x2":5.21,"a":66.4,"b":70.5,"v":-2},{"x":5.07,"x2":5.21,"a":70.5,"b":74.8,"v":-1},{"x":5.07,"x2":5.21,"a":74.8,"b":79.3,"v":0},{"x":5.07,"x2":5.21,"a":79.3,"b":82.9,"v":1},{"x":5.07,"x2":5.21,"a":82.9,"b":87.1,"v":2},{"x":5.07,"x2":5.21,"a":87.1,"b":91.2,"v":3},{"x":5.07,"x2":5.21,"a":91.2,"b":95.5,"v":4},{"x":5.07,"x2":5.21,"a":95.5,"b":99,"v":5},
{"x":7.94,"x2":8.03,"a":21.7,"b":27.6,"v":4},{"x":7.94,"x2":8.03,"a":27.6,"b":32.9,"v":1},{"x":7.94,"x2":8.03,"a":32.9,"b":39.5,"v":-1},{"x":7.94,"x2":8.03,"a":39.5,"b":43.1,"v":-2},{"x":7.94,"x2":8.03,"a":43.1,"b":57.4,"v":-4},{"x":7.94,"x2":8.03,"a":57.4,"b":67.4,"v":-3},{"x":7.95,"x2":8.02,"a":67.4,"b":76.3,"v":-2},{"x":7.95,"x2":8.02,"a":76.3,"b":85.4,"v":-1},{"x":7.96,"x2":8.01,"a":85.4,"b":94.8,"v":-1},
{"x":3.56,"x2":3.6,"a":13.3,"b":23.6,"v":3},{"x":3.56,"x2":3.6,"a":23.6,"b":36.2,"v":4},{"x":3.56,"x2":3.6,"a":36.2,"b":46.9,"v":5},{"x":3.7,"x2":3.74,"a":13.7,"b":36.2,"v":4},{"x":3.7,"x2":3.74,"a":36.2,"b":46.9,"v":5},
{"x":6.22,"x2":6.26,"a":14,"b":31.4,"v":4},{"x":6.72,"x2":6.76,"a":11.2,"b":32,"v":3},{"x":6.72,"x2":6.76,"a":32,"b":37.9,"v":4},
{"x":7.62,"x2":7.66,"a":34.8,"b":57,"v":5},{"x":7.62,"x2":7.66,"a":57,"b":64,"v":4},
{"x":8.77,"x2":8.81,"a":33.6,"b":72.9,"v":4},{"x":8.77,"x2":8.81,"a":72.9,"b":97.4,"v":5},
{"x":13.2,"x2":13.24,"a":25.2,"b":61.3,"v":5},
{"x":1.85,"x2":2.03,"a":43.1,"b":55.5,"v":8},{"x":1.85,"x2":2.03,"a":55.5,"b":75.2,"v":7}
],
"scalebar":[
{"x":-10,"x2":-9,"v":-10},{"x":-9,"x2":-8,"v":-9},{"x":-8,"x2":-7,"v":-8},{"x":-7,"x2":-6,"v":-7},{"x":-6,"x2":-5,"v":-6},{"x":-5,"x2":-4,"v":-5},{"x":-4,"x2":-3,"v":-4},{"x":-3,"x2":-2,"v":-3},{"x":-2,"x2":-1,"v":-2},{"x":-1,"x2":0,"v":-1},{"x":0,"x2":1,"v":0},{"x":1,"x2":2,"v":1},{"x":2,"x2":3,"v":2},{"x":3,"x2":4,"v":3},{"x":4,"x2":5,"v":4},{"x":5,"x2":6,"v":5},{"x":6,"x2":7,"v":6},{"x":7,"x2":8,"v":7},{"x":8,"x2":9,"v":8},{"x":9,"x2":10,"v":9},{"x":10,"x2":11,"v":10},{"x":11,"x2":12,"v":11},{"x":12,"x2":13,"v":12},{"x":13,"x2":14,"v":13},{"x":14,"x2":15,"v":14},{"x":15,"x2":16,"v":15},{"x":16,"x2":17,"v":16},{"x":17,"x2":18,"v":17},{"x":18,"x2":19,"v":18},{"x":19,"x2":20,"v":19},{"x":20,"x2":21,"v":20},{"x":21,"x2":22,"v":21},{"x":22,"x2":23,"v":22},{"x":23,"x2":24,"v":23},{"x":24,"x2":25,"v":24},{"x":25,"x2":26,"v":25},{"x":26,"x2":27,"v":26},{"x":27,"x2":28,"v":27},{"x":28,"x2":29,"v":28},{"x":29,"x2":30,"v":29},{"x":30,"x2":31,"v":30},{"x":31,"x2":32,"v":31},{"x":32,"x2":33,"v":32},{"x":33,"x2":34,"v":33},{"x":34,"x2":35,"v":34},{"x":35,"x2":36,"v":35}
]
},
"vconcat":[
{"bounds":"flush","spacing":5,"vconcat":[
{"width":670,"height":15,"data":{"name":"strip"},"mark":{"type":"rect"},
"encoding":{"x":{"field":"x","type":"quantitative","axis":null,"scale":{"domain":[1.4,31.4],"nice":false,"zero":false}},"x2":{"field":"x2"},"color":{"field":"v","type":"ordinal","legend":null}}},
{"width":670,"height":399,
"encoding":{
"x":{"field":"x","type":"quantitative","scale":{"domain":[1.4,31.4],"nice":false,"zero":false},"axis":{"values":[1.4,6.4,11.4,16.4,21.4,26.4,31.4],"format":".1f","grid":true,"gridColor":"#000","gridDash":[1,3],"gridWidth":1.5,"gridOpacity":1,"labelPadding":9,"zindex":1,"labelFlush":false}},
"y":{"field":"a","type":"quantitative","scale":{"domain":[5,100],"reverse":true,"nice":false,"zero":false},"axis":{"values":[5,10,20,50,100],"grid":true,"gridColor":"#000","gridDash":[1,3],"gridWidth":1.5,"gridOpacity":1,"labelPadding":4,"zindex":1}},
"y2":{"field":"b"},
"color":{"field":"v","type":"ordinal","legend":null}},
"layer":[
{"data":{"name":"areas"},"mark":{"type":"area"},"encoding":{"detail":{"field":"r","type":"nominal"}}},
{"data":{"name":"bars"},"mark":{"type":"rect"},"encoding":{"x2":{"field":"x2"}}}
]}
]},
{"width":670,"height":20,"data":{"name":"scalebar"},"mark":{"type":"rect"},
"encoding":{
"x":{"field":"x","type":"quantitative","scale":{"domain":[-10,36],"nice":false,"zero":false},"axis":{"values":[-10,-5,0,5,10,15,20,25,30,35],"format":".1f","labelPadding":1,"labelFlush":false}},
"x2":{"field":"x2"},
"color":{"field":"v","type":"ordinal","legend":null,"scale":{"domain":[-10,-9,-8,-7,-6,-5,-4,-3,-2,-1,0,1,2,3,4,5,6,7,8,9,10,11,12,13,14,15,16,17,18,19,20,21,22,23,24,25,26,27,28,29,30,31,32,33,34,35],"range":["#4a1464","#512a88","#5a3bae","#6250d0","#6464f8","#5050f0","#4038d8","#3025c0","#1818a8","#0000a0","#0a55dc","#0f6ecf","#1585c5","#1c9cb8","#20b2aa","#0a9a3e","#0db137","#13ce30","#17e828","#1eff1e","#3cb000","#558000","#6e6000","#8b3000","#a00000","#a05020","#b84020","#d02a10","#e81a08","#ff0000","#f01030","#e80050","#d80070","#c80090","#c000b8","#d010d0","#e018e0","#f020f0","#f828f8","#ff38ff","#ff66dd","#ff88c0","#f8a8a0","#f4c880","#f2ee60","#f2ee60"]}}}}
]
}
